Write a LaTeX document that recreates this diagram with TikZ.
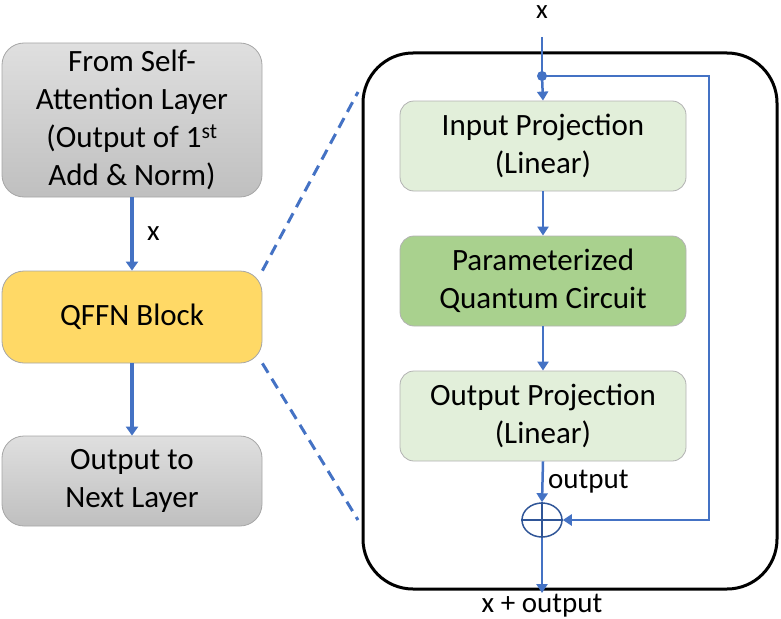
\documentclass[tikz,border=0pt]{standalone}
\usepackage{fontspec}
\setmainfont{Carlito}
\usetikzlibrary{arrows.meta,shapes.geometric}
\definecolor{myblue}{HTML}{4472C4}
\definecolor{darkblue}{HTML}{2F5597}
\definecolor{lgreen}{HTML}{E2EFDA}
\definecolor{mgreen}{HTML}{A9D18E}
\definecolor{myyellow}{HTML}{FFD966}
\tikzset{
  txt/.style={font=\fontsize{31}{38}\selectfont, align=center, text=black},
  lbl/.style={font=\fontsize{29}{32}\selectfont, text=black},
  leftbox/.style={txt, draw=gray!70, line width=0.8pt, rounded corners=22pt, minimum width=260pt, inner sep=0pt},
  graybox/.style={leftbox, top color=gray!25, bottom color=gray!50},
  innerbox/.style={txt, draw=gray!60, line width=0.8pt, rounded corners=14pt, minimum width=286pt, minimum height=90pt, inner sep=0pt},
  arr/.style={myblue, line width=3.5pt, -{Triangle[width=12pt,length=9pt]}},
  arrthin/.style={myblue, line width=2.5pt, -{Triangle[width=11pt,length=9pt]}},
  dashline/.style={myblue, line width=3pt, dash pattern=on 11pt off 7pt},
}
\begin{document}
\begin{tikzpicture}[x=1pt,y=-1pt]
\useasboundingbox (0,0) rectangle (781,618);
% left column
\node[graybox, minimum height=154pt] (from) at (132,120) {From Self-\\Attention Layer\\(Output of 1\textsuperscript{st}\\Add \& Norm)};
\node[leftbox, fill=myyellow, minimum height=92pt] (qffn) at (132,317) {QFFN Block};
\node[graybox, minimum height=90pt] (out) at (132,481) {Output to\\Next Layer};
\draw[arr] (from.south) -- (qffn.north) node[midway, right=10pt, lbl] {x};
\draw[arr] (qffn.south) -- (out.north);
% big box
\node[draw=black, line width=3pt, rounded corners=50pt, minimum width=414pt, minimum height=536pt, inner sep=0pt] (big) at (570,321) {};
\draw[dashline] (qffn.north east) -- (358,92);
\draw[dashline] (qffn.south east) -- (358,520);
% inner boxes
\node[innerbox, fill=lgreen] (inp) at (543,146) {Input Projection\\(Linear)};
\node[innerbox, fill=mgreen] (pqc) at (543,281) {Parameterized\\Quantum Circuit};
\node[innerbox, fill=lgreen] (outp) at (543,416) {Output Projection\\(Linear)};
% plus
\node[ellipse, draw=darkblue, line width=1.5pt, minimum width=40pt, minimum height=34pt, inner sep=0pt] (plus) at (542,520) {};
\draw[darkblue, line width=1.2pt] (plus.north) -- (plus.south) (plus.west) -- (plus.east);
% top input
\node[lbl, anchor=base, inner sep=0pt, font=\fontsize{27}{28}\selectfont] (xin) at (542,19) {x};
\coordinate (xtop) at (542,37);
\coordinate (dot) at (542,76);
\coordinate (c1) at (709,76);
\coordinate (c2) at (709,520);
\fill[myblue] (dot) circle (5pt);
\draw[myblue, line width=2.5pt] (xtop) -- (dot);
\draw[arrthin] (dot) -- (inp.north);
\draw[arrthin] (inp.south) -- (pqc.north);
\draw[arrthin] (pqc.south) -- (outp.north);
\draw[arrthin] (outp.south) -- (plus.north) node[midway, right=1pt, lbl] {output};
\draw[arrthin] (dot) -- (c1) -- (c2) -- (plus.east);
\coordinate (bot) at (542,593);
\draw[arrthin] (plus.south) -- (bot);
\node[lbl, anchor=base] (res) at (542,612) {x + output};
\end{tikzpicture}
\end{document}
